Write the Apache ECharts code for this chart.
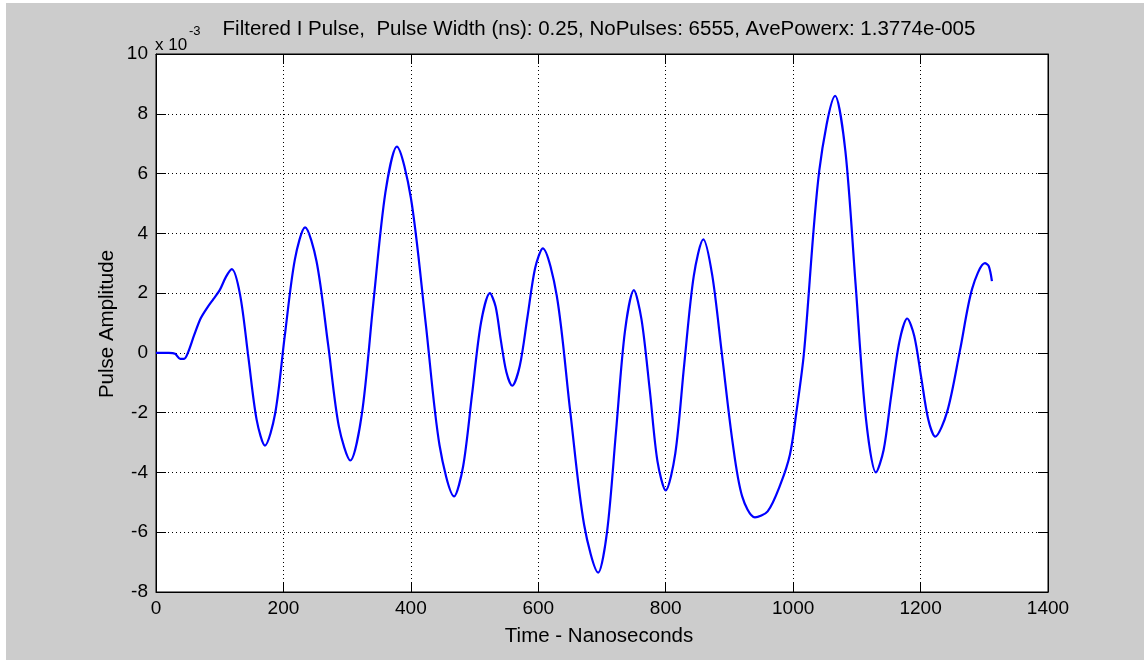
<!DOCTYPE html>
<html>
<head>
<meta charset="utf-8">
<script src="https://cdn.jsdelivr.net/npm/echarts@6/dist/echarts.min.js"></script>
<style>
html,body{margin:0;padding:0;background:#fff;}
#bg{position:absolute;left:6px;top:3px;width:1138px;height:657px;background:#cccccc;}
#c{position:absolute;left:0;top:0;width:1144px;height:660px;}
</style>
</head>
<body>
<div id="bg"></div>
<div id="c"></div>
<script>
// Time (ns) and pulse amplitude (x 1e-3)
const times = [0,20,30,38,44,50,60,70,80,90,100,110,119,132,145,158,171,187,202,218,234,252,270,287,305,323,341,360,378,400,423,445,468,482,496,510,524,533,541,550,559,571,583,595,607,629,650,672,694,708,722,736,750,762,775,787,800,815,829,844,859,873,888,905,920,940,960,980,995,1005,1017,1041,1066,1082,1098,1114,1130,1142,1154,1167,1179,1190,1201,1212,1223,1242,1262,1281,1301,1307,1312];
const amplitude = [0,0,-0.03,-0.2,-0.2,0,0.6,1.15,1.5,1.8,2.1,2.55,2.8,1.94,-0.15,-2.24,-3.1,-2.03,0.55,3.13,4.2,3.06,0.3,-2.46,-3.6,-2.06,1.65,5.36,6.9,5.19,1.05,-3.09,-4.8,-3.8,-1.4,1.0,2.0,1.55,0.45,-0.65,-1.1,-0.43,1.2,2.83,3.5,1.91,-1.93,-5.76,-7.35,-5.97,-2.63,0.72,2.1,1.12,-1.25,-3.62,-4.6,-3.37,-0.4,2.57,3.8,2.6,0,-3.0,-4.8,-5.5,-5.3,-4.4,-3.4,-2.0,0,6.1,8.6,6.75,2.3,-2.15,-4.0,-3.25,-1.42,0.4,1.15,0.57,-0.82,-2.22,-2.8,-1.95,0.1,2.15,3.0,2.9,2.4];
const xTicks = [0,200,400,600,800,1000,1200,1400];
const yTicks = [-8,-6,-4,-2,0,2,4,6,8,10];
const titleText = 'Filtered I Pulse,  Pulse Width (ns): 0.25, NoPulses: 6555, AvePowerx: 1.3774e-005';
const xName = 'Time - Nanoseconds';
const yName = 'Pulse Amplitude';
const scaleBase = 'x 10';
const scaleExp = '-3';

const FONT = '"Liberation Sans", Arial, sans-serif';
const FS = 19;
const FT = 20.5;
const data = times.map((t, i) => [t, amplitude[i]]);

const chart = echarts.init(document.getElementById('c'), null, {renderer: 'canvas'});
const axisCommon = {
  type: 'value',
  axisLine: {show: true, onZero: false, lineStyle: {color: '#000', width: 1}},
  axisTick: {show: true, inside: true, length: 10, lineStyle: {color: '#000', width: 1}},
};
chart.setOption({
  backgroundColor: 'transparent',
  animation: false,
  grid: {left: 156, top: 54, right: 96, bottom: 68, show: true, backgroundColor: '#fff', borderColor: '#000', borderWidth: 1},
  graphic: [
    {type: 'text', x: 599, y: 29, style: {text: titleText, font: FT + 'px ' + FONT, fill: '#000', align: 'center', verticalAlign: 'middle'}},
    {type: 'text', x: 155, y: 45, style: {text: scaleBase, font: '17px ' + FONT, fill: '#000', align: 'left', verticalAlign: 'middle'}},
    {type: 'text', x: 189, y: 31, style: {text: scaleExp, font: '13px ' + FONT, fill: '#000', align: 'left', verticalAlign: 'middle'}},
    {type: 'text', x: 599, y: 636, style: {text: xName, font: FT + 'px ' + FONT, fill: '#000', align: 'center', verticalAlign: 'middle'}},
    {type: 'text', x: 107, y: 324, rotation: Math.PI / 2, style: {text: yName, font: FT + 'px ' + FONT, fill: '#000', align: 'center', verticalAlign: 'middle'}}
  ],
  xAxis: [
    Object.assign({}, axisCommon, {position: 'bottom', min: xTicks[0], max: xTicks[xTicks.length-1], interval: 200,
      axisLabel: {show: true, color: '#000', fontSize: FS, fontFamily: FONT, margin: 7,
        formatter: v => xTicks.includes(v) ? String(v) : ''},
      splitLine: {show: true, lineStyle: {color: '#000', width: 1, type: [1, 3]}}}),
    Object.assign({}, axisCommon, {position: 'top', min: xTicks[0], max: xTicks[xTicks.length-1], interval: 200,
      axisLabel: {show: false}, splitLine: {show: false}})
  ],
  yAxis: [
    Object.assign({}, axisCommon, {position: 'left', min: yTicks[0], max: yTicks[yTicks.length-1], interval: 2,
      axisLabel: {show: true, color: '#000', fontSize: FS, fontFamily: FONT, margin: 8,
        formatter: v => yTicks.includes(v) ? String(v) : ''},
      splitLine: {show: true, lineStyle: {color: '#000', width: 1, type: [1, 3]}}}),
    Object.assign({}, axisCommon, {position: 'right', min: yTicks[0], max: yTicks[yTicks.length-1], interval: 2,
      axisLabel: {show: false}, splitLine: {show: false}})
  ],
  series: [{
    type: 'line', data: data, xAxisIndex: 0, yAxisIndex: 0,
    showSymbol: false, smooth: 0.3, z: 5,
    lineStyle: {color: '#0000ff', width: 2.2}
  }]
});
</script>
</body>
</html>
